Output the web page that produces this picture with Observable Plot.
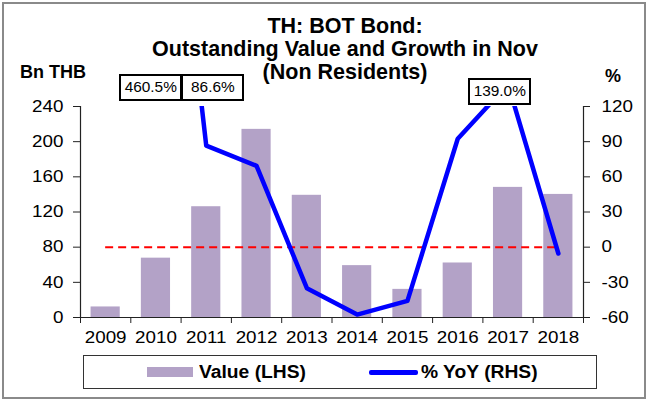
<!DOCTYPE html>
<html>
<head>
<meta charset="utf-8">
<script src="https://cdn.jsdelivr.net/npm/d3@7"></script>
<script src="https://cdn.jsdelivr.net/npm/@observablehq/plot@0.6"></script>
<style>
  html, body { margin: 0; padding: 0; background: #fff; }
  body { font-family: "Liberation Sans", Arial, sans-serif; }
  #wrap { position: relative; width: 647px; height: 401px; overflow: hidden; }
  #wrap svg { position: absolute; left: 0; top: 0; }
  .ov { position: absolute; white-space: nowrap; color: #000; }
  .st { display: inline-block; }
</style>
</head>
<body>
<div id="wrap"></div>
<script>
// ---- data ----
const years = [2009, 2010, 2011, 2012, 2013, 2014, 2015, 2016, 2017, 2018];
const values = [12, 67.5, 126, 214, 139, 59, 32, 62, 148, 140];          // Bn THB (LHS)
const yoy = [null, 460.5, 86.6, 69.4, -35, -57.5, -45.8, 92.5, 139.0, -5.4]; // % YoY (RHS)
const labelYears = [2010, 2011, 2017];
const leftTicks = [0, 40, 80, 120, 160, 200, 240];
const rightTicks = [-60, -30, 0, 30, 60, 90, 120];
const titleLines = ["TH: BOT Bond:", "Outstanding Value and Growth in Nov", "(Non Residents)"];

// ---- scales mapping ----
const L = [0, 240], R = [-60, 120];
const toL = v => L[0] + (v - R[0]) * (L[1] - L[0]) / (R[1] - R[0]);
const fromL = v => R[0] + (v - L[0]) * (R[1] - R[0]) / (L[1] - L[0]);

const bars = years.map((y, i) => ({year: y, value: values[i]}));
const growth = years.map((y, i) => ({year: y, yoy: yoy[i]}));
const edges = [years[0] - 0.5, ...years.map(y => y + 0.5)];

const FONT = "'Liberation Sans', Arial, sans-serif";
const AX = "#222";

const chart = Plot.plot({
  width: 647,
  height: 401,
  marginLeft: 80,
  marginRight: 64,
  marginTop: 106,
  marginBottom: 84,
  style: {fontFamily: FONT, fontSize: "16.5px", background: "transparent", overflow: "visible"},
  x: {type: "linear", domain: [edges[0], edges[edges.length - 1]]},
  y: {domain: L},
  marks: [
    Plot.rectY(bars, {x1: d => d.year - 0.29, x2: d => d.year + 0.29, y: "value", fill: "#b3a2c7"}),
    Plot.ruleY([toL(0)], {x1: years[0], x2: years[years.length - 1], stroke: "#ff0000", strokeWidth: 2, strokeDasharray: "8,5"}),
    Plot.line(growth.filter(d => d.yoy != null), {x: "year", y: d => toL(d.yoy), stroke: "#0000ff", strokeWidth: 4.5, clip: true}),
    Plot.ruleX([edges[0], edges[edges.length - 1]], {stroke: AX, strokeWidth: 1.2}),
    Plot.ruleY([L[0]], {stroke: AX, strokeWidth: 1.2}),
    Plot.axisY({ticks: leftTicks, tickSize: 7, tickPadding: 10, label: null, fontSize: 16.5, stroke: AX, fill: "#000"}),
    Plot.axisY({anchor: "right", ticks: rightTicks.map(toL), tickFormat: d => String(Math.round(fromL(d))), tickSize: 6, tickPadding: 12, label: null, fontSize: 16.5, stroke: AX, fill: "#000"}),
    Plot.axisX({ticks: edges, tickSize: 6, tickFormat: () => "", label: null, stroke: AX}),
    Plot.axisX({ticks: years, tickSize: 0, tickPadding: 14, tickFormat: d => String(d), label: null, fontSize: 16.5, fill: "#000"})
  ]
});

// horizontally widen the SVG texts, as in the reference
const S = 1.14;
chart.querySelectorAll("text").forEach(t => {
  const x = +(t.getAttribute("x") || 0);
  const tr = t.getAttribute("transform") || "";
  t.setAttribute("transform", `${tr} translate(${x},0) scale(${S},1) translate(${-x},0)`);
});

const wrap = document.getElementById("wrap");
wrap.appendChild(chart);

function ov(html, css) {
  const d = document.createElement("div");
  d.className = "ov";
  d.innerHTML = html;
  Object.assign(d.style, css);
  wrap.appendChild(d);
  return d;
}

// outer border
ov("", {left: "2px", top: "2px", width: "640px", height: "393px", border: "2px solid #8a8a8a"});

// title
ov(titleLines.map(s => `<div>${s}</div>`).join(""), {
  left: "45px", width: "600px", top: "15px", textAlign: "center",
  font: `bold 21.5px ${FONT}`, lineHeight: "23px"
});

// axis units
ov('<span class="st">Bn THB</span>', {left: "20px", top: "62px", font: `bold 18px ${FONT}`});
ov('<span class="st">%</span>', {left: "605px", top: "66px", font: `bold 18px ${FONT}`});

// data label boxes (positioned through the plot's x scale)
const sx = chart.scale("x");
const boxOffsets = {2010: -5, 2011: 7, 2017: -8};
const boxTops = {2010: 74, 2011: 74, 2017: 78};
labelYears.forEach(yr => {
  const v = yoy[years.indexOf(yr)];
  const w = 63, h = 27;
  const cx = sx.apply(yr) + boxOffsets[yr];
  ov(`<span class="st" style="transform:scaleX(1.1);transform-origin:50% 50%">${v.toFixed(1)}%</span>`, {
    left: (cx - w / 2) + "px", top: boxTops[yr] + "px", width: (w - 4) + "px", height: (h - 4) + "px",
    border: "2px solid #000", background: "#fff", textAlign: "center",
    font: `14px ${FONT}`, lineHeight: (h - 4) + "px"
  });
});

// legend
ov("", {left: "83px", top: "355px", width: "512px", height: "32px", border: "1.5px solid #333", background: "#fff"});
ov("", {left: "147px", top: "367px", width: "46px", height: "9.5px", background: "#b3a2c7"});
ov('<span class="st" style="transform:scaleX(1.1);transform-origin:0 50%">Value (LHS)</span>', {left: "199px", top: "361px", font: `bold 17.5px ${FONT}`, lineHeight: "22px"});
ov("", {left: "369px", top: "370px", width: "49px", height: "4.5px", background: "#0000ff", borderRadius: "2px"});
ov('<span class="st" style="transform:scaleX(1.1);transform-origin:0 50%">% YoY (RHS)</span>', {left: "421px", top: "361px", font: `bold 17.5px ${FONT}`, lineHeight: "22px"});
</script>
</body>
</html>
